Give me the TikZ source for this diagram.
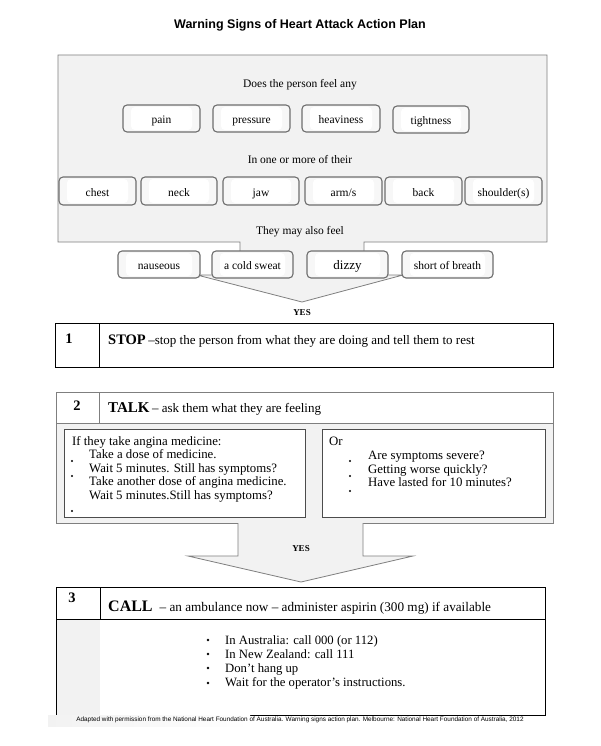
\documentclass[tikz,border=0pt]{standalone}
\usepackage{fontspec}
\setmainfont{Liberation Serif}
\newfontfamily\arialfont{Liberation Sans}
\definecolor{bg}{HTML}{F2F2F2}
\definecolor{edge}{HTML}{7F7F7F}
\definecolor{rboxedge}{HTML}{6E6E6E}
\newcommand\myfs[1]{\fontsize{#1}{#1}\selectfont}
\begin{document}
\begin{tikzpicture}[x=1pt,y=-1pt,
  rbox/.style={draw=rboxedge, line width=1.1pt, rounded corners=4pt, fill=bg!60, inner sep=0pt,
    font=\myfs{11.5}, text height=12pt, text depth=2pt,
    path picture={\fill[white] ([xshift=8pt,yshift=-2pt]path picture bounding box.north west) rectangle ([xshift=-8pt,yshift=2pt]path picture bounding box.south east);}},
  lab/.style={inner sep=0pt, font=\myfs{11.5}},
  line/.style={inner sep=0pt, anchor=base west},
  yes/.style={inner sep=0pt, font=\bfseries\myfs{9}},
  num/.style={inner sep=0pt, font=\bfseries\myfs{14.5}},
  arrowshape/.style={draw=edge, fill=bg, line width=0.8pt}]
\useasboundingbox (0,0) rectangle (600,746);
\fill[white] (0,0) rectangle (600,746);

% title
\node[inner sep=0pt, font=\arialfont\bfseries\myfs{12.5}] (title) at (300,25) {Warning Signs of Heart Attack Action Plan};

% first arrow
\draw[arrowshape] (58,55) -- (547,55) -- (547,242) -- (364,242) -- (364,275) -- (403,275) -- (302,302) -- (197,275) -- (240,275) -- (240,242) -- (58,242) -- cycle;

\node[lab] (q1) at (300,85) {Does the person feel any};
\node[rbox, minimum width=77pt, minimum height=27pt] (pain) at (161.5,118.5) {pain};
\node[rbox, minimum width=77pt, minimum height=27pt] (pressure) at (251.5,118.5) {pressure};
\node[rbox, minimum width=78pt, minimum height=27pt] (heaviness) at (341,118.5) {heaviness};
\node[rbox, minimum width=76pt, minimum height=27pt] (tightness) at (431,119.5) {tightness};

\node[lab] (q2) at (300,160) {In one or more of their};
\node[rbox, minimum width=77pt, minimum height=28pt] (chest) at (97.5,191) {chest};
\node[rbox, minimum width=76pt, minimum height=28pt] (neck) at (179,191) {neck};
\node[rbox, minimum width=76pt, minimum height=28pt] (jaw) at (261,191) {jaw};
\node[rbox, minimum width=77pt, minimum height=28pt] (arms) at (343.5,191) {arm/s};
\node[rbox, minimum width=77pt, minimum height=28pt] (back) at (423.5,191) {back};
\node[rbox, minimum width=77pt, minimum height=28pt] (shoulder) at (503.5,191) {shoulder(s)};

\node[lab] (q3) at (300,232) {They may also feel};
\node[rbox, minimum width=82pt, minimum height=27pt, text height=11pt] (nauseous) at (159,264.5) {nauseous};
\node[rbox, minimum width=81pt, minimum height=27pt, text height=12pt] (sweat) at (252.5,264.5) {a cold sweat};
\node[rbox, minimum width=81pt, minimum height=27pt, text height=12pt, font=\myfs{13}] (dizzy) at (347.5,264.5) {dizzy};
\node[rbox, minimum width=91pt, minimum height=27pt, text height=11pt] (breath) at (447.5,264.5) {short of breath};

\node[yes] (yes1) at (302,313) {YES};

% box 1
\node[draw=black, line width=1pt, minimum width=498pt, minimum height=44pt, anchor=north west, inner sep=0pt] (box1) at (55,323) {};
\draw[line width=1pt] (99,323) -- (99,367);
\node[num] (n1) at (69,339) {1};
\node[line] (stop) at (108,344) {{\bfseries\myfs{14.5}STOP} {\myfs{13}--stop the person from what they are doing and tell them to rest}};

% box 2
\fill[bg] (56,423) rectangle (553,523);
\node[draw=edge, line width=1pt, minimum width=497pt, minimum height=131pt, anchor=north west, inner sep=0pt] (box2) at (56,392) {};
\draw[edge, line width=1pt] (56,423) -- (553,423);
\draw[edge, line width=1pt] (99,392) -- (99,423);
\node[num] (n2) at (77,406) {2};
\node[line] (talk) at (108,412) {{\bfseries\myfs{15}TALK} {\myfs{13}-- ask them what they are feeling}};

\node[draw=black!70, fill=white, line width=0.8pt, minimum width=241pt, minimum height=88pt, anchor=north west, inner sep=0pt] (left) at (64,429) {};
\node[draw=black!70, fill=white, line width=0.8pt, minimum width=223pt, minimum height=88pt, anchor=north west, inner sep=0pt] (right) at (322,429) {};

\begin{scope}[every node/.style={line, font=\myfs{12.8}}]
\node (l1) at (72,445) {If they take angina medicine:};
\node (l2) at (89,458.5) {Take a dose of medicine.};
\node (l3) at (89,472) {Wait 5 minutes. Still has symptoms?};
\node (l4) at (89,485.5) {Take another dose of angina medicine.};
\node (l5) at (89,499) {Wait 5 minutes.Still has symptoms?};
\node (r1) at (329,445) {Or};
\node (r2) at (368,459.5) {Are symptoms severe?};
\node (r3) at (368,473) {Getting worse quickly?};
\node (r4) at (368,486.5) {Have lasted for 10 minutes?};
\end{scope}
\foreach \y in {461,476,511} \fill (72,\y) circle (1.1pt);
\foreach \y in {461,476,491} \fill (350,\y) circle (1.1pt);

% second arrow
\fill[bg] (238,523) -- (238,556) -- (188,556) -- (301,582) -- (413,556) -- (363,556) -- (363,523) -- cycle;
\draw[edge, line width=0.8pt] (238,523) -- (238,556) -- (188,556) -- (301,582) -- (413,556) -- (363,556) -- (363,523);
\node[yes] (yes2) at (301,549) {YES};

% box 3
\fill[bg] (56,619) rectangle (100,715);
\node[draw=black, line width=1pt, minimum width=489pt, minimum height=128pt, anchor=north west, inner sep=0pt] (box3) at (56,587) {};
\draw[line width=1pt] (56,619) -- (545,619);
\draw[line width=1pt] (100,587) -- (100,619);
\node[num] (n3) at (72,598) {3};
\node[line] (call) at (108,611) {{\bfseries\myfs{16}CALL}\hspace{7pt}{\myfs{13.2}-- an ambulance now -- administer aspirin (300 mg) if available}};
\begin{scope}[every node/.style={line, font=\myfs{12.7}}]
\node (c1) at (225,644) {In Australia: call 000 (or 112)};
\node (c2) at (225,658) {In New Zealand: call 111};
\node (c3) at (225,672) {Don’t hang up};
\node (c4) at (225,686.5) {Wait for the operator’s instructions.};
\end{scope}
\foreach \y in {640,654,668,683} \fill (208,\y) circle (1.3pt);

% footer
\shade[left color=bg, right color=white] (48,715) rectangle (250,726);
\node[inner sep=0pt, font=\arialfont\myfs{6.4}] (footer) at (300,720) {Adapted with permission from the National Heart Foundation of Australia. Warning signs action plan. Melbourne: National Heart Foundation of Australia, 2012};
\end{tikzpicture}
\end{document}
